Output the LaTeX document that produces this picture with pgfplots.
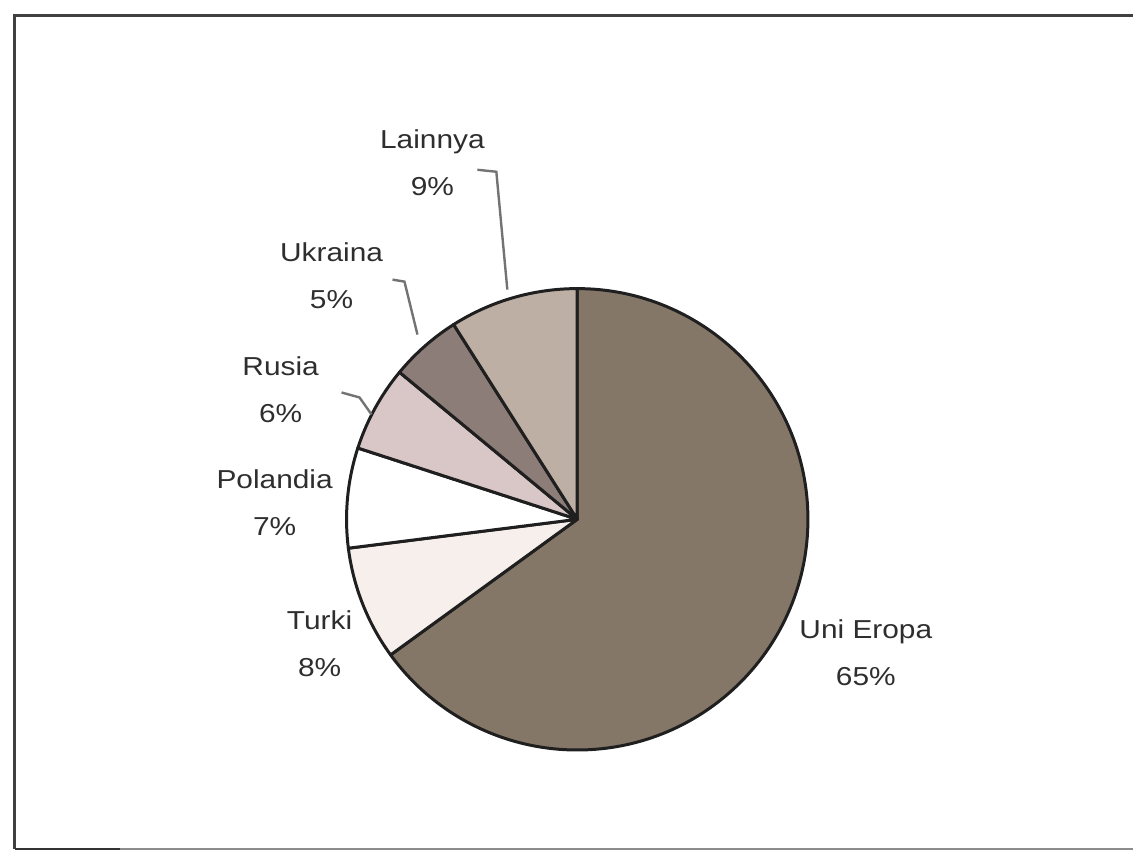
\documentclass[border=0pt]{standalone}
\usepackage{pgfplots}
\usepackage{pgfplotstable}
\pgfplotsset{compat=1.18}
\usepackage{fontspec}
\setmainfont[FakeStretch=1.15]{Liberation Sans}
\definecolor{cEU}{HTML}{857768}
\definecolor{cTR}{HTML}{F6EFEC}
\definecolor{cPL}{HTML}{FFFFFF}
\definecolor{cRU}{HTML}{D9C7C8}
\definecolor{cUA}{HTML}{8C7D78}
\definecolor{cLA}{HTML}{BDAFA4}
\definecolor{txt}{HTML}{2E2E2E}
\pgfplotstableread[col sep=comma]{
label,value,color
Uni Eropa,65,cEU
Turki,8,cTR
Polandia,7,cPL
Rusia,6,cRU
Ukraina,5,cUA
Lainnya,9,cLA
}\piedata
\begin{document}
\begin{tikzpicture}
\begin{axis}[x=1pt,y=1pt,xmin=0,xmax=1134,ymin=0,ymax=858,hide axis,clip=false,scale only axis]
\path (axis cs:0,0) rectangle (axis cs:1134,858);
% frame
\draw[line width=3pt,black!75] (axis cs:1134,842) -- (axis cs:15,842) -- (axis cs:15,8);
\draw[line width=2.5pt,black!45] (axis cs:15,8) -- (axis cs:1134,8);
\draw[line width=2.5pt,black!80] (axis cs:15,8) -- (axis cs:120,8);
\pgfplotsextra{
  \def\cum{0}
  \pgfplotsforeachungrouped \i in {0,...,5}{
    \pgfplotstablegetelem{\i}{value}\of\piedata \let\val\pgfplotsretval
    \pgfplotstablegetelem{\i}{color}\of\piedata \let\slicecol\pgfplotsretval
    \pgfmathsetmacro\angA{90-3.6*\cum}
    \pgfmathsetmacro\angB{90-3.6*(\cum+\val)}
    \filldraw[fill=\slicecol,draw=black!88,line width=3pt,line join=round]
      (axis cs:578,338) -- ++(\angA:231pt) arc[start angle=\angA,end angle=\angB,radius=231pt] -- cycle;
    \pgfmathsetmacro\cum{\cum+\val}
  }
}
% leader lines
\draw[black!55,line width=2.4pt] (axis cs:478,688) -- (axis cs:497,686) -- (axis cs:508,568);
\draw[black!55,line width=2.4pt] (axis cs:393,578) -- (axis cs:405,576) -- (axis cs:418,523);
\draw[black!55,line width=2.4pt] (axis cs:342,465) -- (axis cs:360,460) -- (axis cs:372,443);
% labels
\begin{scope}[every node/.style={align=center,text=txt,font=\fontsize{26}{47}\selectfont,inner sep=0pt}]
\node at (axis cs:433,695) {Lainnya\\9\%};
\node at (axis cs:332,582) {Ukraina\\5\%};
\node at (axis cs:281,468) {Rusia\\6\%};
\node at (axis cs:275,355) {Polandia\\7\%};
\node at (axis cs:320,213) {Turki\\8\%};
\node at (axis cs:867,204) {Uni Eropa\\65\%};
\end{scope}
\end{axis}
\end{tikzpicture}
\end{document}
